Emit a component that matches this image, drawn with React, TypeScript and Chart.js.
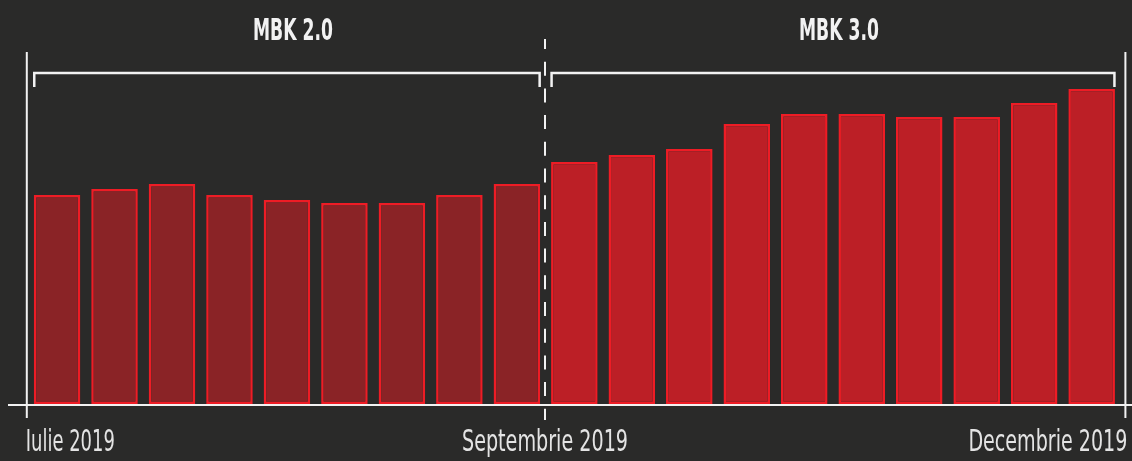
import React, { useEffect, useRef } from "react";
import { Chart, registerables } from "chart.js";

Chart.register(...registerables);

// ---- data ----
const periods = ["1", "2", "3", "4", "5", "6", "7", "8", "9", "10", "11", "12", "13", "14", "15", "16", "17", "18", "19"];
const mbk2Values = [209, 215, 220, 209, 204, 201, 201, 209, 220];
const mbk3Values = [242, 249, 255, 280, 290, 290, 287, 287, 301, 315];
const groupNames = ["MBK 2.0", "MBK 3.0"];
const tickLabels = ["Iulie 2019", "Septembrie 2019", "Decembrie 2019"];

// ---- style ----
const BG = "#2a2a29";
const FILL_2 = "#8a2326";
const FILL_3 = "#bc1f26";
const BORDER = "#ee1c25";
const WHITE = "#f2f2f2";
const FONT_STACK = "'Liberation Sans Narrow', 'DejaVu Sans Condensed', 'Roboto', sans-serif";

function drawFitText(
  ctx: CanvasRenderingContext2D,
  text: string,
  x: number,
  y: number,
  align: "left" | "center" | "right",
  targetWidth: number,
  font: string,
  color: string
) {
  ctx.save();
  ctx.font = font;
  ctx.fillStyle = color;
  ctx.textBaseline = "alphabetic";
  ctx.textAlign = align;
  const w = ctx.measureText(text).width || 1;
  const s = targetWidth / w;
  ctx.translate(x, y);
  ctx.scale(s, 1);
  ctx.fillText(text, 0, 0);
  ctx.restore();
}

const decorPlugin = {
  id: "decor",
  beforeDraw(chart: any) {
    const ctx = chart.ctx;
    ctx.save();
    ctx.fillStyle = BG;
    ctx.fillRect(0, 0, chart.width, chart.height);
    ctx.restore();
  },
  afterDatasetsDraw(chart: any) {
    const ctx: CanvasRenderingContext2D = chart.ctx;
    const area = chart.chartArea;
    const bars = chart.getDatasetMeta(0).data as any[];
    const n2 = mbk2Values.length;
    const edges = (i: number) => {
      const b = bars[i];
      return [b.x - b.width / 2, b.x + b.width / 2];
    };
    const leftAxisX = area.left - 1.5;
    const rightAxisX = area.right + 5;
    const baseY = area.bottom;

    ctx.save();
    ctx.strokeStyle = WHITE;
    ctx.lineCap = "butt";

    // horizontal axis
    ctx.lineWidth = 2;
    ctx.beginPath();
    ctx.moveTo(8, baseY + 1);
    ctx.lineTo(chart.width, baseY + 1);
    ctx.stroke();

    // vertical axes
    ctx.beginPath();
    ctx.moveTo(leftAxisX, 52);
    ctx.lineTo(leftAxisX, 418);
    ctx.moveTo(rightAxisX, 52);
    ctx.lineTo(rightAxisX, 418);
    ctx.stroke();

    // dashed separator
    const sepX = Math.round((edges(n2 - 1)[1] + edges(n2)[0]) / 2) - 1;
    ctx.setLineDash([14, 12.7]);
    ctx.lineDashOffset = 4;
    ctx.beginPath();
    ctx.moveTo(sepX, 39);
    ctx.lineTo(sepX, 420);
    ctx.stroke();
    ctx.setLineDash([]);
    ctx.lineDashOffset = 0;

    // brackets + group titles
    const groups = [
      [0, n2 - 1],
      [n2, bars.length - 1],
    ];
    ctx.lineWidth = 2.5;
    groups.forEach(([a, b], gi) => {
      const x0 = edges(a)[0] + 0.5;
      const x1 = edges(b)[1] - 0.5;
      ctx.beginPath();
      ctx.moveTo(x0, 87);
      ctx.lineTo(x0, 73);
      ctx.lineTo(x1, 73);
      ctx.lineTo(x1, 87);
      ctx.stroke();
      drawFitText(ctx, groupNames[gi], (x0 + x1) / 2 + 6, 40, "center", 80, `bold 30px ${FONT_STACK}`, WHITE);
    });

    // bottom labels
    const labelFont = `30px ${FONT_STACK}`;
    drawFitText(ctx, tickLabels[0], leftAxisX - 1, 451, "left", 89, labelFont, "#e4e4e4");
    drawFitText(ctx, tickLabels[1], sepX, 451, "center", 166, labelFont, "#e4e4e4");
    drawFitText(ctx, tickLabels[2], rightAxisX + 2, 451, "right", 159, labelFont, "#e4e4e4");
    ctx.restore();
  },
};

export default function App() {
  const canvasRef = useRef<HTMLCanvasElement | null>(null);

  useEffect(() => {
    const canvas = canvasRef.current;
    if (!canvas) return;
    const values = [...mbk2Values, ...mbk3Values];
    const fills = values.map((_, i) => (i < mbk2Values.length ? FILL_2 : FILL_3));
    const chart = new Chart(canvas, {
      type: "bar",
      data: {
        labels: periods,
        datasets: [
          {
            data: values,
            backgroundColor: fills,
            borderColor: BORDER,
            borderWidth: 2.5,
            borderSkipped: false,
            categoryPercentage: 1,
            barPercentage: 0.81,
          },
        ],
      },
      options: {
        responsive: false,
        animation: false,
        devicePixelRatio: 1,
        layout: { padding: { left: 28.3, right: 11.6, top: 54, bottom: 57 } },
        plugins: {
          legend: { display: false },
          tooltip: { enabled: false },
          title: { display: false },
        },
        scales: {
          x: { display: false, offset: true, grid: { display: false } },
          y: { display: false, min: 0, max: 350 },
        },
      },
      plugins: [decorPlugin],
    });
    return () => chart.destroy();
  }, []);

  return (
    <div style={{ position: "fixed", left: 0, top: 0, width: 1132, height: 461, background: BG, overflow: "hidden" }}>
      <canvas ref={canvasRef} width={1132} height={461} style={{ display: "block", width: 1132, height: 461 }} />
    </div>
  );
}
